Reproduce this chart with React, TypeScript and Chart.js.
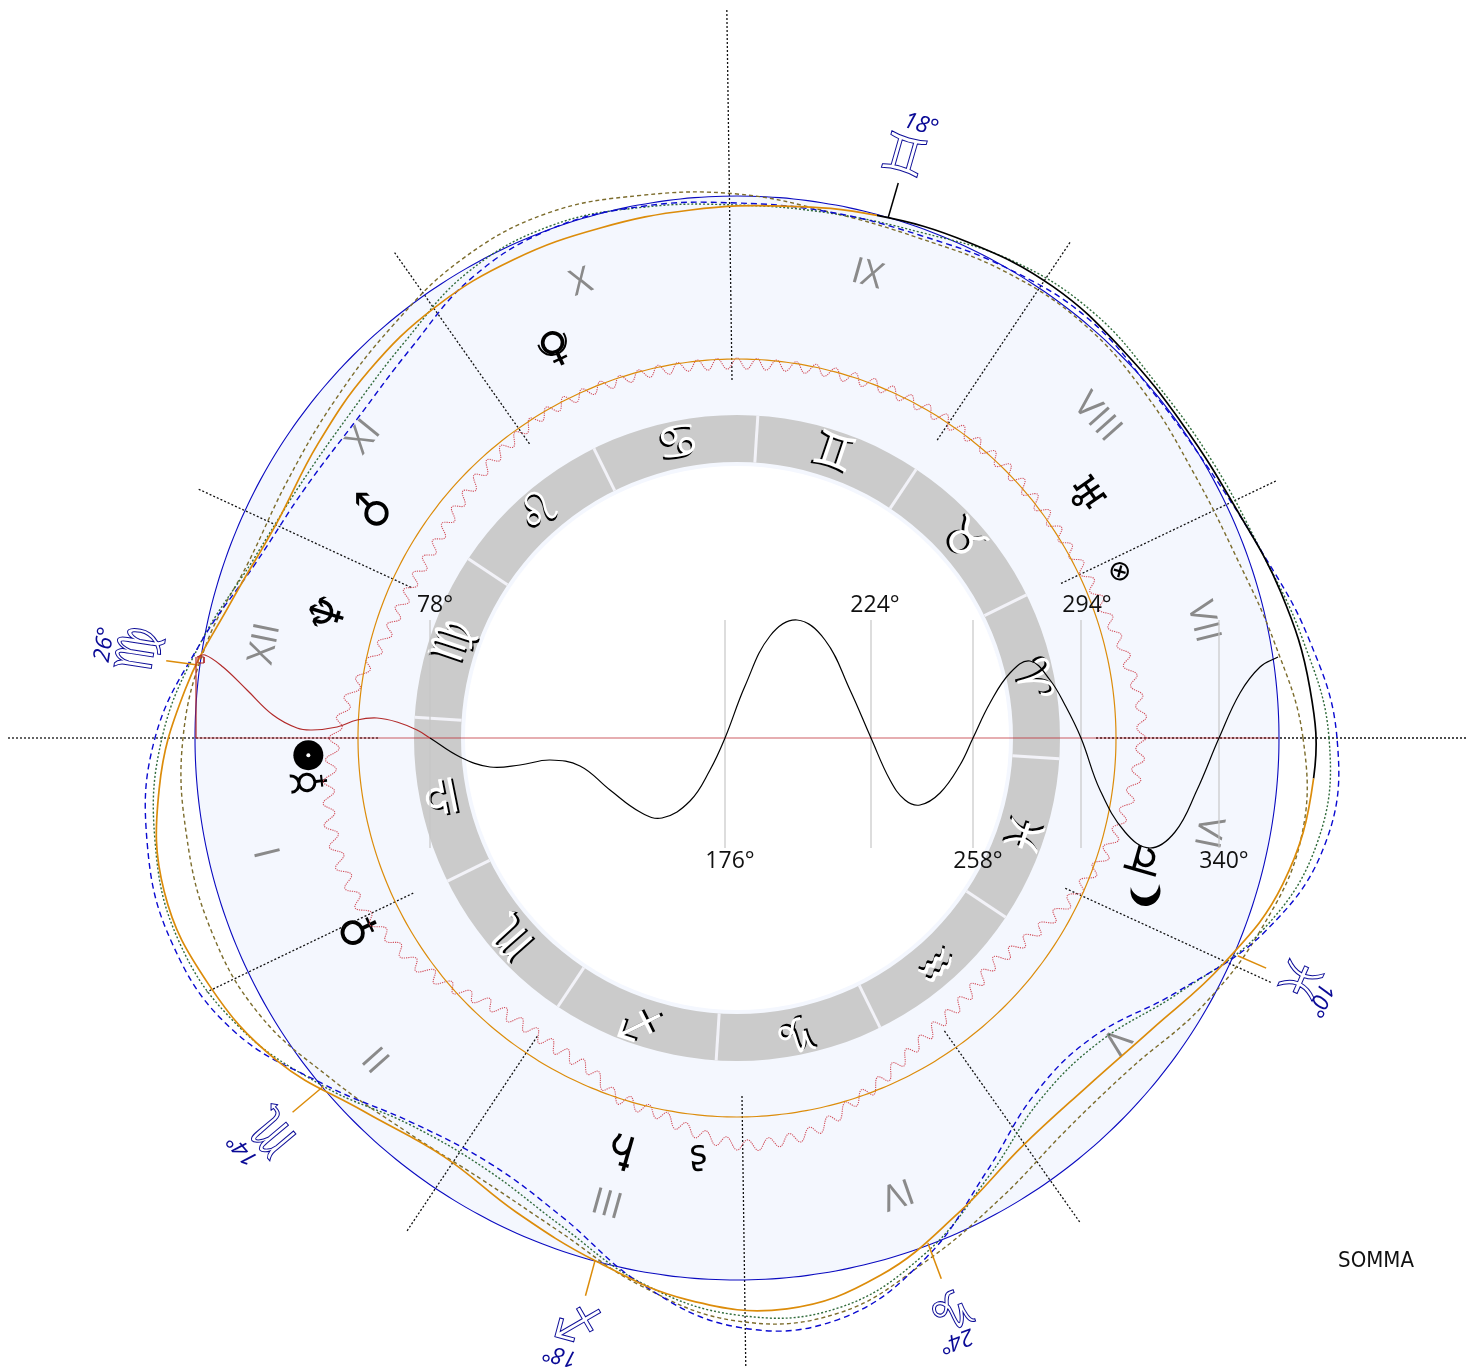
import React, { useEffect, useRef } from "react";
import { Chart, registerables } from "chart.js";

Chart.register(...registerables);

const discRadius = 542;
const orangeRadius = 379;
const ringOuter = 323;
const ringInner = 276;
const coreRadius = 272;
const signBoundaryStart = -3.7;

const signGlyphs = ["♈", "♉", "♊", "♋", "♌", "♍", "♎", "♏", "♐", "♑", "♒", "♓"];
const houseNumerals = ["I", "II", "III", "IV", "V", "VI", "VII", "VIII", "IX", "X", "XI", "XII"];
const numeralAngles = [193.7, 221.7, 254.4, 289.4, 321.4, 348.7, 14, 41.7, 74.3, 108.9, 141.1, 168.7];
const numeralRadii = [481, 481, 480, 482, 484, 480, 480, 482, 481, 481, 479, 481];

const cuspAngles = [0, 25.5, 56.1, 90.8, 125.2, 155.2, 180, 205.6, 236.2, 270.8, 305.3, 335.4];
const cuspInner = [359, 359, 359, 358, 360, 359, 359, 359, 359, 358, 359, 361];
const cuspOuter = [731, 597, 597, 730, 595, 595, 730, 588, 595, 629, 595, 589];

const planetGlyphs = ["☿", "♀", "♂", "♃", "♄", "♅", "♆", "♀", "⊗", "ʂ"];
const planetAngles = [185.9, 206.9, 147.6, -16.7, 254.4, 34.9, 163.1, 115, 23.5, 264.7];
const planetRadii = [428, 422, 427, 419, 425, 421, 424, 428, 416, 419];
const planetTurns = [-96, -115, -90, 106, -164, 55, -73, -25, 60, -5];
const planetSizes = [44, 44, 44, 46, 48, 44, 48, 42, 28, 34];
const plutoIndex = 7;
const sunAngle = 182.3;
const sunRadius = 429;
const moonAngle = -21;
const moonRadius = 438;

const outerGlyphs = ["♊", "♍", "♏", "♐", "♑", "♓"];
const outerAngles = [74, 171.6, 220.2, 254.8, 290.6, 336.8];
const outerRadii = [602, 603, 606, 601, 606, 608];
const outerDegrees = ["18°", "26°", "14°", "18°", "24°", "10°"];
const outerDegreeAngles = [73.3, 171.6, 219.8, 254, 290, 335.8];
const outerDegreeRadii = [640, 639, 643, 642, 641, 639];
const outerTurns = [16, -81, -130, -165, 160, 114];
const tickAngles = [73.8, 172.3, 220.1, 254.8, 290.7, 336.5];
const tickInner = [542, 544, 541, 541, 540, 546];
const tickOuter = [578, 576, 581, 578, 578, 577];

const scaleLabels = ["78°", "176°", "224°", "258°", "294°", "340°"];
const scaleX = [-307, -12, 134, 236, 344, 482];
const scaleLabelX = [-302, -7, 138, 241, 350, 487];
const scaleLabelY = [133, -123, 133, -123, 133, -123];
const scaleTop = 118;
const scaleBottom = -110;

const solidAngles = [-4, 5, 15, 25, 35, 45, 55, 65, 75, 85, 95, 105, 115, 125, 135, 145, 155, 165, 175, 185, 195, 205, 215, 225, 235, 245, 255, 265, 275, 285, 295, 305, 315, 325, 335, 345, 356];
const solidRadii = [578, 575, 563, 549, 545, 547, 551, 547, 541, 534, 530, 528, 528, 526, 520, 512, 508, 524, 554, 580, 593, 583, 562, 528, 511, 523, 542, 564, 573, 556, 524, 498, 494, 507, 536, 565, 578];
const solidBlackPoints = 8;

const ringAngles = [0, 10, 20, 30, 40, 50, 60, 70, 80, 90, 100, 110, 120, 130, 140, 150, 160, 170, 180, 190, 200, 210, 220, 230, 240, 250, 260, 270, 280, 290, 300, 310, 320, 330, 340, 350, 360];
const blueRadii = [600, 580, 556, 543, 541, 547, 542, 535, 534, 535, 540, 542, 531, 508, 496, 499, 512, 545, 582, 599, 601, 583, 539, 503, 492, 510, 554, 589, 590, 553, 500, 464, 465, 508, 563, 598, 600];
const greenRadii = [592, 574, 556, 550, 549, 555, 551, 538, 533, 533, 539, 545, 538, 517, 505, 505, 516, 545, 575, 591, 594, 576, 541, 506, 499, 518, 553, 577, 579, 549, 505, 472, 473, 510, 560, 590, 592];
const oliveRadii = [566, 546, 531, 528, 534, 540, 538, 532, 534, 544, 551, 558, 552, 537, 525, 518, 519, 539, 554, 559, 560, 552, 530, 514, 510, 524, 556, 583, 584, 556, 530, 512, 514, 537, 558, 573, 566];

const rippleRadii = [
  410, 400, 410, 400, 408, 397, 405, 393, 402, 391, 398, 387,
  395, 384, 393, 382, 391, 380, 389, 378, 387, 377, 387, 376,
  387, 375, 387, 375, 387, 375, 387, 375, 386, 375, 386, 375,
  386, 374, 386, 374, 385, 374, 385, 374, 385, 374, 385, 373,
  384, 372, 383, 372, 382, 371, 381, 370, 380, 369, 380, 369,
  380, 369, 380, 369, 380, 370, 380, 370, 381, 371, 381, 371,
  381, 371, 382, 372, 382, 372, 383, 372, 382, 372, 381, 370,
  378, 367, 376, 365, 374, 363, 372, 360, 369, 358, 367, 356,
  365, 354, 363, 353, 363, 353, 364, 354, 365, 355, 366, 357,
  368, 360, 372, 365, 379, 373, 386, 380, 395, 388, 401, 395,
  408, 398, 412, 402, 416, 406, 419, 409, 422, 410, 422, 410,
  422, 409, 420, 408, 418, 405, 412, 399, 406, 394, 402, 389,
  397, 381, 390, 375, 382, 367, 374, 359, 368, 355, 365, 353,
  363, 352, 364, 353, 365, 354, 366, 356, 368, 361, 377, 371,
  385, 374, 387, 377, 389, 381, 396, 388, 402, 394, 408, 399,
  412, 402, 413, 401, 411, 399, 409, 396, 404, 389, 396, 380,
  387, 373, 382, 367, 375, 360, 368, 354, 362, 349, 358, 345,
  355, 343, 353, 341, 351, 339, 349, 337, 347, 337, 351, 343,
  356, 348, 362, 354, 368, 360, 374, 366, 379, 371, 385, 377,
  391, 382, 395, 386, 398, 389, 402, 393, 406, 396, 408, 399,
  410,
];
const rippleStep = 1.5;

const redX = [-540, -532, -514, -490, -464, -440, -425, -400, -380, -360, -340, -320, -307];
const redY = [81, 83, 71, 48, 23, 10, 8, 11, 18, 20, 16, 8, 0];
const blackX = [-307, -277, -247, -217, -187, -157, -127, -97, -75, -47, -27, -12, 8, 33, 60, 88, 113, 134, 153, 168, 183, 203, 223, 236, 253, 273, 293, 313, 328, 344, 363, 388, 413, 438, 460, 482, 503, 523, 541];
const blackY = [0, -19, -29, -27, -22, -28, -52, -74, -80, -63, -32, 0, 52, 102, 118, 98, 48, 0, -42, -62, -67, -55, -27, 0, 35, 65, 77, 58, 33, 0, -52, -94, -110, -94, -52, 0, 45, 71, 81];
const redBoxX = [-539, -533, -533, -539, -539];
const redBoxY = [81, 81, 75, 75, 81];
const redEdgeX = [-541, -541];
const redEdgeY = [0, 81];

const rad = (a: number) => (a * Math.PI) / 180;
const polar = (angles: number[], radii: number[]) =>
  angles.map((a, i) => ({ x: radii[i] * Math.cos(rad(a)), y: radii[i] * Math.sin(rad(a)) }));
const cartesian = (xs: number[], ys: number[]) => xs.map((x, i) => ({ x, y: ys[i] }));

const wheelPlugin = {
  id: "wheel",
  beforeDatasetsDraw(chart: any) {
    const { ctx, scales } = chart;
    const sx = scales.x;
    const sy = scales.y;
    const cx = sx.getPixelForValue(0);
    const cy = sy.getPixelForValue(0);
    const px = (r: number) => sx.getPixelForValue(r) - cx;
    const at = (a: number, r: number): [number, number] => [
      sx.getPixelForValue(r * Math.cos(rad(a))),
      sy.getPixelForValue(r * Math.sin(rad(a))),
    ];
    ctx.save();
    ctx.beginPath();
    ctx.arc(cx, cy, px(discRadius), 0, Math.PI * 2);
    ctx.fillStyle = "#f4f7fe";
    ctx.fill();
    ctx.beginPath();
    ctx.arc(cx, cy, px(ringOuter), 0, Math.PI * 2);
    ctx.arc(cx, cy, px(ringInner), Math.PI * 2, 0, true);
    ctx.fillStyle = "#cbcbcb";
    ctx.fill();
    ctx.beginPath();
    ctx.arc(cx, cy, px(coreRadius), 0, Math.PI * 2);
    ctx.fillStyle = "#ffffff";
    ctx.fill();
    ctx.strokeStyle = "#f2f2f8";
    ctx.lineWidth = 3;
    for (let i = 0; i < signGlyphs.length; i++) {
      const a = signBoundaryStart + i * 30;
      const [x0, y0] = at(a, ringInner);
      const [x1, y1] = at(a, ringOuter);
      ctx.beginPath();
      ctx.moveTo(x0, y0);
      ctx.lineTo(x1, y1);
      ctx.stroke();
    }
    ctx.textAlign = "center";
    ctx.textBaseline = "middle";
    signGlyphs.forEach((g, i) => {
      const a = signBoundaryStart + 15 + i * 30;
      const [x, y] = at(a, 298);
      ctx.save();
      ctx.translate(x, y);
      ctx.rotate(rad(90 - a));
      ctx.font = "48px 'DejaVu Sans'";
      ctx.fillStyle = "#000000";
      ctx.fillText(g, -1.5, 1.5);
      ctx.fillStyle = "#ffffff";
      ctx.fillText(g, 0.5, -0.5);
      ctx.restore();
    });
    houseNumerals.forEach((n, i) => {
      const [x, y] = at(numeralAngles[i], numeralRadii[i]);
      ctx.save();
      ctx.translate(x, y);
      ctx.rotate(rad(90 - numeralAngles[i]));
      ctx.font = "36px 'Open Sans'";
      ctx.fillStyle = "#8a8a8a";
      ctx.fillText(n, 0, 0);
      ctx.restore();
    });
    planetGlyphs.forEach((g, i) => {
      const [x, y] = at(planetAngles[i], planetRadii[i]);
      ctx.save();
      ctx.translate(x, y);
      ctx.rotate(rad(planetTurns[i]));
      ctx.font = `${planetSizes[i]}px 'DejaVu Sans'`;
      ctx.fillStyle = "#000000";
      ctx.fillText(g, 0, 0);
      if (i === plutoIndex) {
        ctx.beginPath();
        ctx.arc(0, -10, 14, rad(-10), rad(190));
        ctx.strokeStyle = "#000000";
        ctx.lineWidth = 2;
        ctx.stroke();
      }
      ctx.restore();
    });
    const [mx, my] = at(moonAngle, moonRadius);
    ctx.save();
    ctx.translate(mx, my);
    ctx.rotate(rad(-6));
    ctx.beginPath();
    ctx.arc(0, -4, 15, rad(-5), rad(185));
    ctx.arc(0, -12, 14.5, rad(170), rad(10), true);
    ctx.closePath();
    ctx.fillStyle = "#000000";
    ctx.fill();
    ctx.restore();
    outerGlyphs.forEach((g, i) => {
      const [x, y] = at(outerAngles[i], outerRadii[i]);
      ctx.save();
      ctx.translate(x, y);
      ctx.rotate(rad(outerTurns[i]));
      ctx.font = "52px 'DejaVu Sans'";
      ctx.strokeStyle = "#0a0a96";
      ctx.lineWidth = 1;
      ctx.fillStyle = "#ffffff";
      ctx.fillText(g, 0, 0);
      ctx.strokeText(g, 0, 0);
      ctx.restore();
      const [dx, dy] = at(outerDegreeAngles[i], outerDegreeRadii[i]);
      ctx.save();
      ctx.translate(dx, dy);
      ctx.rotate(rad(outerTurns[i]));
      ctx.font = "italic 23px 'Open Sans'";
      ctx.fillStyle = "#0a0a96";
      ctx.fillText(outerDegrees[i], 0, 0);
      ctx.restore();
    });
    ctx.restore();
  },
  afterDatasetsDraw(chart: any) {
    const { ctx, scales } = chart;
    const sx = scales.x;
    const sy = scales.y;
    ctx.save();
    ctx.textAlign = "center";
    ctx.textBaseline = "middle";
    ctx.fillStyle = "#111111";
    ctx.font = "23px 'Open Sans'";
    scaleLabels.forEach((t, i) => {
      ctx.fillText(t, sx.getPixelForValue(scaleLabelX[i]), sy.getPixelForValue(scaleLabelY[i]));
    });
    ctx.font = "22px 'DejaVu Sans Condensed'";
    ctx.fillText("SOMMA", sx.getPixelForValue(639), sy.getPixelForValue(-523));
    ctx.restore();
  },
};

const line = (data: { x: number; y: number }[], color: string, width: number, dash: number[] = [], tension = 0.4) => ({
  data,
  showLine: true,
  borderColor: color,
  borderWidth: width,
  borderDash: dash,
  pointRadius: 0,
  tension,
  fill: false,
});

// Closed curve: the last and first stretches repeat their neighbours only so the
// spline leaves and re-enters the seam smoothly; those two stretches stay unpainted.
const loop = (angles: number[], radii: number[], color: (i: number) => string, width: number, dash: number[] = []) => {
  const n = angles.length;
  const a = [angles[n - 2] - 360, ...angles, angles[1] + 360];
  const r = [radii[n - 2], ...radii, radii[1]];
  return {
    ...line(polar(a, r), color(0), width, dash),
    segment: {
      borderColor: (ctx: any) =>
        ctx.p0DataIndex === 0 || ctx.p1DataIndex === a.length - 1 ? "rgba(0,0,0,0)" : color(ctx.p0DataIndex - 1),
    },
  };
};

export default function App() {
  const ref = useRef<HTMLCanvasElement | null>(null);
  useEffect(() => {
    if (!ref.current) return;
    const drawOrder: any[] = [];
    scaleX.forEach((x) => {
      drawOrder.push(line(cartesian([x, x], [scaleBottom, scaleTop]), "#c6c6c6", 1.2, [], 0));
    });
    cuspAngles.forEach((a, i) => {
      drawOrder.push(line(polar([a, a], [cuspInner[i], cuspOuter[i]]), "#111111", 1.3, [2, 2], 0));
    });
    drawOrder.push(line(cartesian([-542, 542], [0, 0]), "rgba(190,40,50,0.75)", 1.2, [], 0));
    const rippleAngles = rippleRadii.map((_, i) => i * rippleStep);
    drawOrder.push(line(polar(rippleAngles, rippleRadii), "#d2505c", 1.1, [1.2, 1], 0.4));
    drawOrder.push(line(polar(rippleAngles, rippleRadii.map(() => orangeRadius)), "#dc8c0a", 1.2, [], 0.4));
    drawOrder.push(line(polar(rippleAngles, rippleRadii.map(() => discRadius)), "#0a0ac0", 1.1, [], 0.4));
    drawOrder.push(loop(ringAngles, oliveRadii, () => "#7c6c2c", 1.4, [4, 3]));
    drawOrder.push(loop(ringAngles, greenRadii, () => "#2f6a3a", 1.4, [2, 2]));
    drawOrder.push(loop(ringAngles, blueRadii, () => "#0a0ad0", 1.4, [6, 4]));
    drawOrder.push(loop(solidAngles, solidRadii, (i) => (i < solidBlackPoints ? "#000000" : "#dc8c0a"), 1.7));
    tickAngles.forEach((a, i) => {
      drawOrder.push(line(polar([a, a], [tickInner[i], tickOuter[i]]), i === 0 ? "#000000" : "#dc8c0a", 1.5, [], 0));
    });
    drawOrder.push(line(cartesian(redEdgeX, redEdgeY), "#b22a2a", 1.2, [], 0));
    drawOrder.push(line(cartesian(redBoxX, redBoxY), "#b22a2a", 1, [], 0));
    drawOrder.push(line(cartesian(redX, redY), "#b22a2a", 1.2));
    drawOrder.push(line(cartesian(blackX, blackY), "#000000", 1.2));
    drawOrder.push({ ...line(polar([sunAngle], [sunRadius]), "#000000", 0), pointRadius: 15, pointBackgroundColor: "#000000", pointBorderWidth: 0 });
    drawOrder.push({ ...line(polar([sunAngle], [sunRadius]), "#ffffff", 0), pointRadius: 2, pointBackgroundColor: "#ffffff", pointBorderWidth: 0 });
    drawOrder.forEach((d, i) => {
      d.order = drawOrder.length - i;
    });
    const chart = new Chart(ref.current, {
      type: "scatter",
      data: { datasets: drawOrder },
      options: {
        animation: false,
        responsive: false,
        devicePixelRatio: 1,
        layout: { padding: 0, autoPadding: false },
        plugins: { legend: { display: false }, tooltip: { enabled: false } },
        scales: {
          x: { type: "linear", min: -737, max: 744, display: false },
          y: { type: "linear", min: -631, max: 738, display: false },
        },
      },
      plugins: [wheelPlugin],
    } as any);
    return () => chart.destroy();
  }, []);
  return (
    <canvas
      ref={ref}
      width={1481}
      height={1369}
      style={{ position: "absolute", left: 0, top: 0, display: "block" }}
    />
  );
}
